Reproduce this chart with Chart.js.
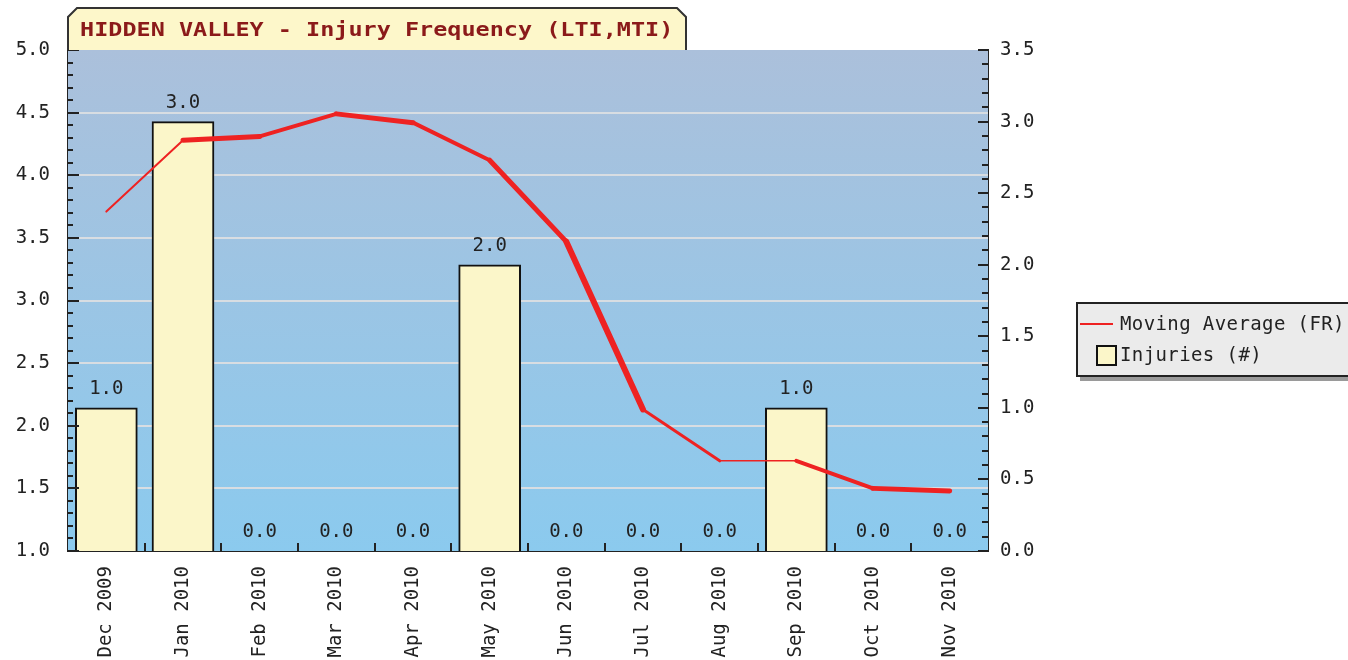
<!DOCTYPE html>
<html>
<head>
<meta charset="utf-8">
<script src="https://cdn.jsdelivr.net/npm/chart.js@4.4.0/dist/chart.umd.min.js"></script>
<style>
  html, body { margin: 0; padding: 0; background: #fff; }
  canvas { display: block; }
</style>
</head>
<body>
<canvas id="injuryChart" width="1348" height="660"></canvas>
<script>
// ── DATA ──
const MONTHS = ['Dec 2009', 'Jan 2010', 'Feb 2010', 'Mar 2010', 'Apr 2010', 'May 2010',
                'Jun 2010', 'Jul 2010', 'Aug 2010', 'Sep 2010', 'Oct 2010', 'Nov 2010'];
const INJURIES   = [1, 3, 0, 0, 0, 2, 0, 0, 0, 1, 0, 0];
const MOVING_AVG = [3.71, 4.28, 4.31, 4.49, 4.42, 4.12, 3.47, 2.13, 1.72, 1.72, 1.50, 1.48];
const TITLE = 'HIDDEN VALLEY - Injury Frequency (LTI,MTI)';
const LEGEND_LINE = 'Moving Average (FR)';
const LEGEND_BAR  = 'Injuries (#)';

// line thickness per segment (the source draws it heavier in places)
const SEG_WIDTHS = [2, 5, 4, 5, 4, 5, 6, 3, 1.5, 4, 5];

const MONO = "'DejaVu Sans Mono', 'Liberation Mono', monospace";
const RED = '#ee2222';
const BAR_FILL = '#fbf6c9';

Chart.defaults.font.family = MONO;
Chart.defaults.font.size = 19;
Chart.defaults.color = '#222';

// ── PLOT BACKGROUND ──
const plotBackground = {
  id: 'plotBackground',
  beforeDatasetsDraw(chart) {
    const { ctx, chartArea: a } = chart;
    const g = ctx.createLinearGradient(0, a.top, 0, a.bottom);
    g.addColorStop(0, '#abc0db');
    g.addColorStop(1, '#8bcaee');
    ctx.save();
    ctx.fillStyle = g;
    ctx.fillRect(a.left, a.top, a.right - a.left, a.bottom - a.top);
    // grid lines for left axis
    ctx.strokeStyle = '#d8dde2';
    ctx.lineWidth = 2;
    ctx.beginPath();
    for (let v = 1.5; v < 5; v += 0.5) {
      const y = Math.round(chart.scales.y.getPixelForValue(v));
      ctx.moveTo(a.left, y);
      ctx.lineTo(a.right, y);
    }
    ctx.stroke();
    ctx.restore();
  }
};

// ── TICK MARKS + VALUE LABELS ──
const axisMarks = {
  id: 'axisMarks',
  afterDatasetsDraw(chart) {
    const { ctx, chartArea: a, scales } = chart;
    ctx.save();
    ctx.strokeStyle = '#222';
    ctx.lineWidth = 2;
    ctx.beginPath();
    for (let v = 10; v <= 50; v++) {
      const y = Math.round(scales.y.getPixelForValue(v / 10));
      ctx.moveTo(a.left, y);
      ctx.lineTo(a.left + (v % 5 === 0 ? 11 : 5), y);
    }
    for (let v = 0; v <= 35; v++) {
      const y = Math.round(scales.y1.getPixelForValue(v / 10));
      ctx.moveTo(a.right, y);
      ctx.lineTo(a.right - (v % 5 === 0 ? 10 : 6), y);
    }
    for (let i = 0; i < MONTHS.length - 1; i++) {
      const x = Math.round((scales.x.getPixelForValue(i) + scales.x.getPixelForValue(i + 1)) / 2);
      ctx.moveTo(x, a.bottom);
      ctx.lineTo(x, a.bottom - 8);
    }
    ctx.stroke();

    // bar value labels
    const meta = chart.getDatasetMeta(1);
    ctx.fillStyle = '#222';
    ctx.font = '19px ' + MONO;
    ctx.textAlign = 'center';
    ctx.textBaseline = 'bottom';
    meta.data.forEach((bar, i) => {
      ctx.fillText(INJURIES[i].toFixed(1), bar.x, bar.y - 9);
    });
    ctx.restore();
  }
};

// ── TITLE BOX + LEGEND ──
const frame = {
  id: 'frame',
  afterDraw(chart) {
    const { ctx } = chart;
    ctx.save();
    // title tab
    ctx.beginPath();
    ctx.moveTo(68, 50);
    ctx.lineTo(68, 17);
    ctx.lineTo(77, 8);
    ctx.lineTo(677, 8);
    ctx.lineTo(686, 17);
    ctx.lineTo(686, 50);
    ctx.fillStyle = '#fdf7ca';
    ctx.fill();
    ctx.strokeStyle = '#333';
    ctx.lineWidth = 2;
    ctx.stroke();

    // wide, heavy title glyphs: stretch horizontally
    ctx.save();
    ctx.translate(80, 31);
    ctx.scale(1.235, 1);
    ctx.fillStyle = '#8b1a1a';
    ctx.font = 'bold 19px ' + MONO;
    ctx.textAlign = 'left';
    ctx.textBaseline = 'middle';
    ctx.fillText(TITLE, 0, 0);
    ctx.restore();

    // legend box
    ctx.fillStyle = '#9a9a9a';
    ctx.fillRect(1080, 306, 280, 75);
    ctx.fillStyle = '#ebebeb';
    ctx.fillRect(1076, 302, 280, 75);
    ctx.strokeStyle = '#222';
    ctx.lineWidth = 2;
    ctx.strokeRect(1077, 303, 280, 73);

    ctx.strokeStyle = RED;
    ctx.beginPath();
    ctx.moveTo(1080, 324);
    ctx.lineTo(1113, 324);
    ctx.stroke();

    ctx.fillStyle = BAR_FILL;
    ctx.fillRect(1097, 346, 19, 19);
    ctx.strokeStyle = '#111';
    ctx.strokeRect(1097, 346, 19, 19);

    ctx.fillStyle = '#222';
    ctx.font = '19px ' + MONO;
    ctx.letterSpacing = '0.4px';
    ctx.textBaseline = 'middle';
    ctx.fillText(LEGEND_LINE, 1120, 325);
    ctx.fillText(LEGEND_BAR, 1120, 356);
    ctx.letterSpacing = '0px';
    ctx.restore();
  }
};

new Chart(document.getElementById('injuryChart'), {
  data: {
    labels: MONTHS,
    datasets: [{
      type: 'line',
      label: LEGEND_LINE,
      data: MOVING_AVG,
      yAxisID: 'y',
      borderColor: RED,
      borderWidth: 3,
      borderCapStyle: 'round',
      borderJoinStyle: 'round',
      pointRadius: 0,
      tension: 0,
      order: 0,
      segment: { borderWidth: c => SEG_WIDTHS[c.p0DataIndex] },
    }, {
      type: 'bar',
      label: LEGEND_BAR,
      data: INJURIES,
      yAxisID: 'y1',
      backgroundColor: BAR_FILL,
      borderColor: '#111',
      borderWidth: 2,
      borderSkipped: 'bottom',
      barThickness: 62,
      order: 1,
    }]
  },
  options: {
    responsive: false,
    animation: false,
    layout: { padding: { left: 0, right: 280, top: 50, bottom: 0 } },
    plugins: {
      legend: { display: false },
      tooltip: { enabled: false },
    },
    scales: {
      x: {
        offset: true,
        grid: { display: false },
        border: { display: true, color: '#222', width: 2 },
        ticks: { minRotation: 90, maxRotation: 90, padding: 7, autoSkip: false },
        afterFit: s => { s.height = 109; },
      },
      y: {
        position: 'left',
        min: 1, max: 5,
        grid: { display: false, drawTicks: false },
        border: { display: true, color: '#222', width: 2 },
        ticks: { stepSize: 0.5, padding: 18, callback: v => v.toFixed(1) },
        afterFit: s => { s.width = 68; },
      },
      y1: {
        position: 'right',
        min: 0, max: 3.5,
        grid: { display: false, drawTicks: false },
        border: { display: true, color: '#222', width: 2 },
        ticks: { stepSize: 0.5, padding: 12, callback: v => v.toFixed(1) },
        afterFit: s => { s.width = 80; },
      }
    }
  },
  plugins: [plotBackground, axisMarks, frame]
});
</script>
</body>
</html>
